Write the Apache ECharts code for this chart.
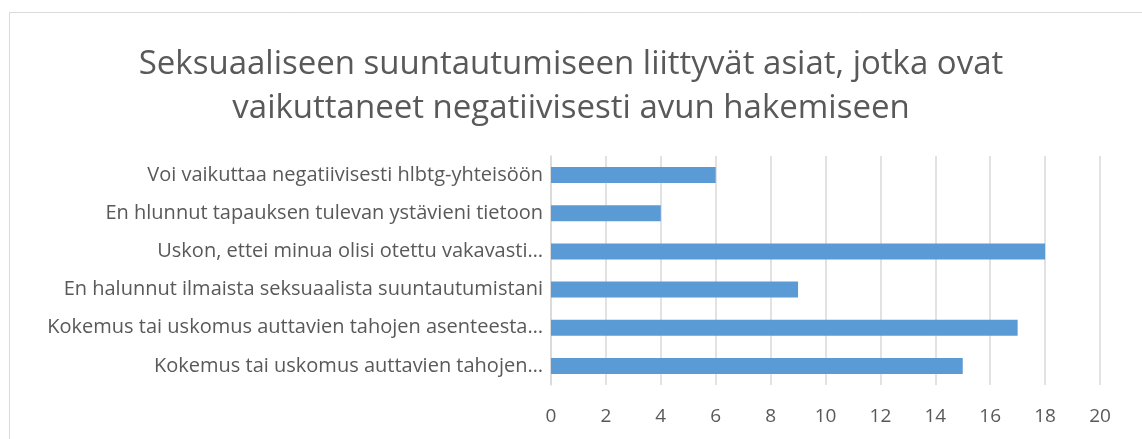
<!DOCTYPE html>
<html><head><meta charset="utf-8">
<script src="https://cdn.jsdelivr.net/npm/echarts@6/dist/echarts.min.js"></script>
<style>html,body{margin:0;padding:0;background:#fff}#c{width:1142px;height:439px}</style>
</head><body><div id="c"></div>
<script>
const titleText = "Seksuaaliseen suuntautumiseen liittyvät asiat, jotka ovat\nvaikuttaneet negatiivisesti avun hakemiseen";
const categories = [
  "Voi vaikuttaa negatiivisesti hlbtg-yhteisöön",
  "En hlunnut tapauksen tulevan ystävieni tietoon",
  "Uskon, ettei minua olisi otettu vakavasti…",
  "En halunnut ilmaista seksuaalista suuntautumistani",
  "Kokemus tai uskomus auttavien tahojen asenteesta…",
  "Kokemus tai uskomus auttavien tahojen…"
];
const values = [6, 4, 18, 9, 17, 15];
const xMin = 0, xMax = 20, xStep = 2;

const chart = echarts.init(document.getElementById('c'));
const font = "'Open Sans', sans-serif";
chart.setOption({
  animation: false,
  graphic: [{type:'rect', shape:{x:9.5, y:12.5, width:1200, height:600}, style:{fill:'none', stroke:'#d9d9d9', lineWidth:1}, silent:true}],
  title: {
    text: titleText, left: 'center', top: 38,
    textStyle: {fontFamily: font, fontSize: 33, fontWeight: 'normal', color: '#595959', lineHeight: 44}
  },
  grid: {left: 551, right: 42, top: 156, bottom: 54},
  xAxis: {
    type: 'value', min: xMin, max: xMax, interval: xStep,
    axisLine: {show:false}, axisTick: {show:false},
    axisLabel: {fontFamily: font, fontSize: 19, color: '#595959', margin: 22},
    splitLine: {lineStyle: {color: '#d9d9d9', width: 1.5}}
  },
  yAxis: {
    type: 'category', data: categories, inverse: true,
    axisLine: {show: true, lineStyle: {color: '#d9d9d9', width: 1.5}},
    axisTick: {show:false},
    axisLabel: {fontFamily: font, fontSize: 20, color: '#595959', margin: 8}
  },
  series: [{type: 'bar', data: values, barWidth: 16, itemStyle: {color: '#5b9bd5'}}]
});
</script></body></html>
